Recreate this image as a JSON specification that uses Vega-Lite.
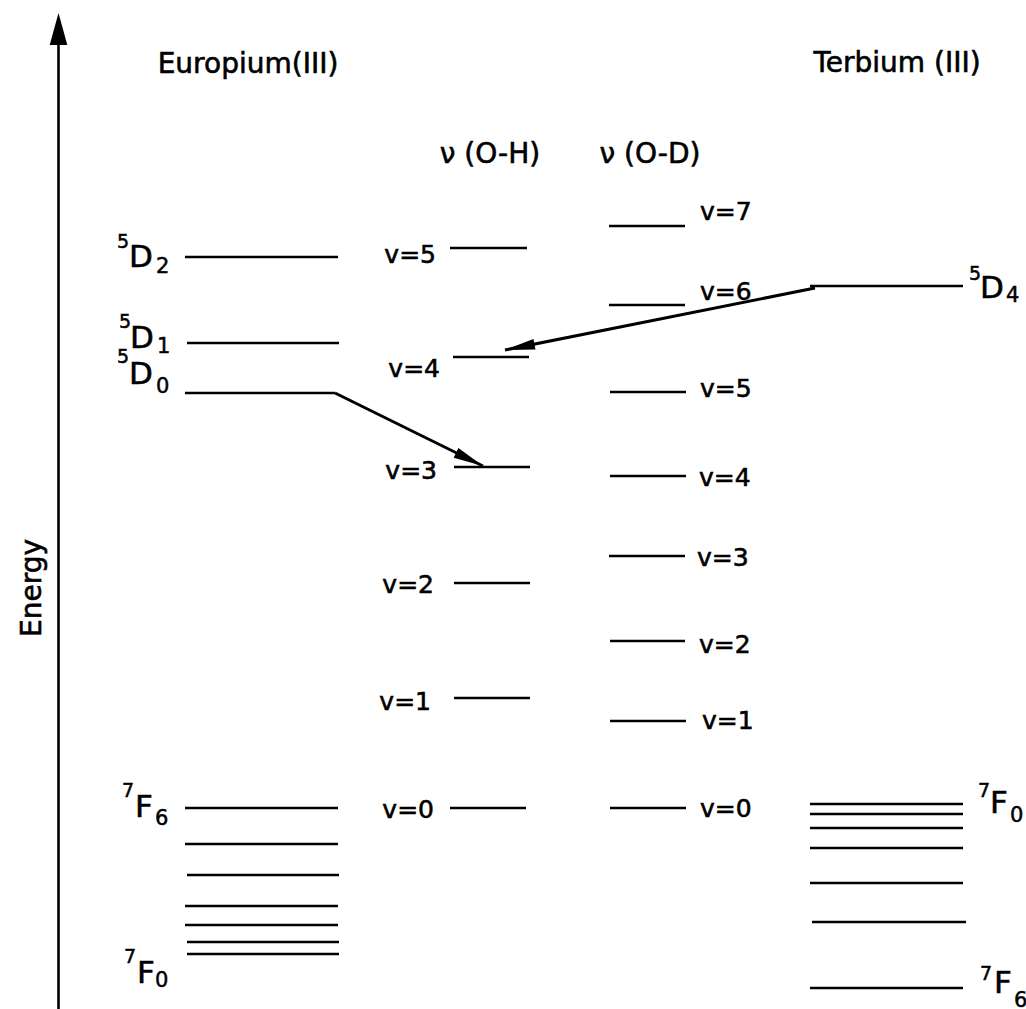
{
  "$schema": "https://vega.github.io/schema/vega-lite/v6.json",
  "width": 1026,
  "height": 1009,
  "autosize": "none",
  "padding": 0,
  "background": "white",
  "config": {"view": {"stroke": null}},
  "datasets": {
    "levels": [
      {"ion": "Eu", "state": "5D2", "x1": 185, "x2": 338, "E": 752},
      {"ion": "Eu", "state": "5D1", "x1": 187, "x2": 339, "E": 666},
      {"ion": "Eu", "state": "5D0", "x1": 185, "x2": 335, "E": 616},
      {"ion": "Eu", "state": "7F6", "x1": 185, "x2": 338, "E": 201},
      {"ion": "Eu", "state": "7F5", "x1": 185, "x2": 338, "E": 165},
      {"ion": "Eu", "state": "7F4", "x1": 187, "x2": 339, "E": 134},
      {"ion": "Eu", "state": "7F3", "x1": 185, "x2": 338, "E": 103},
      {"ion": "Eu", "state": "7F2", "x1": 185, "x2": 338, "E": 84},
      {"ion": "Eu", "state": "7F1", "x1": 187, "x2": 339, "E": 67},
      {"ion": "Eu", "state": "7F0", "x1": 187, "x2": 339, "E": 55},
      {"ion": "OH", "state": "v=5", "x1": 450, "x2": 527, "E": 761},
      {"ion": "OH", "state": "v=4", "x1": 453, "x2": 529, "E": 652},
      {"ion": "OH", "state": "v=3", "x1": 454, "x2": 530, "E": 542},
      {"ion": "OH", "state": "v=2", "x1": 454, "x2": 530, "E": 426},
      {"ion": "OH", "state": "v=1", "x1": 454, "x2": 530, "E": 311},
      {"ion": "OH", "state": "v=0", "x1": 450, "x2": 526, "E": 201},
      {"ion": "OD", "state": "v=7", "x1": 609, "x2": 685, "E": 783},
      {"ion": "OD", "state": "v=6", "x1": 609, "x2": 685, "E": 704},
      {"ion": "OD", "state": "v=5", "x1": 610, "x2": 686, "E": 617},
      {"ion": "OD", "state": "v=4", "x1": 610, "x2": 686, "E": 533},
      {"ion": "OD", "state": "v=3", "x1": 609, "x2": 685, "E": 453},
      {"ion": "OD", "state": "v=2", "x1": 610, "x2": 685, "E": 368},
      {"ion": "OD", "state": "v=1", "x1": 610, "x2": 686, "E": 288},
      {"ion": "OD", "state": "v=0", "x1": 610, "x2": 686, "E": 201},
      {"ion": "Tb", "state": "5D4", "x1": 810, "x2": 963, "E": 723},
      {"ion": "Tb", "state": "7F0", "x1": 810, "x2": 963, "E": 205},
      {"ion": "Tb", "state": "7F1", "x1": 810, "x2": 963, "E": 195},
      {"ion": "Tb", "state": "7F2", "x1": 810, "x2": 963, "E": 181},
      {"ion": "Tb", "state": "7F3", "x1": 810, "x2": 963, "E": 161},
      {"ion": "Tb", "state": "7F4", "x1": 810, "x2": 963, "E": 126},
      {"ion": "Tb", "state": "7F5", "x1": 812, "x2": 966, "E": 87},
      {"ion": "Tb", "state": "7F6", "x1": 810, "x2": 963, "E": 21}
    ],
    "transfers": [
      {"from": "Eu 5D0", "to": "OH v=3", "x1": 335, "E1": 616, "x2": 483, "E2": 543},
      {"from": "Tb 5D4", "to": "OH v=4", "x1": 815, "E1": 721, "x2": 505, "E2": 659}
    ],
    "axis": [
      {"x": 58.5, "E1": -5, "E2": 970, "Etip": 996}
    ],
    "labels": [
      {"text": "Europium(III)", "role": "title", "x": 248, "E": 936},
      {"text": "Terbium (III)", "role": "title", "x": 897, "E": 937},
      {"text": "ν (O-H)", "role": "title", "x": 490, "E": 846},
      {"text": "ν (O-D)", "role": "title", "x": 650, "E": 846},
      {"text": "v=5", "role": "vleft", "x": 436, "E": 746},
      {"text": "v=4", "role": "vleft", "x": 440, "E": 632},
      {"text": "v=3", "role": "vleft", "x": 437, "E": 530},
      {"text": "v=2", "role": "vleft", "x": 434, "E": 416},
      {"text": "v=1", "role": "vleft", "x": 431, "E": 299},
      {"text": "v=0", "role": "vleft", "x": 434, "E": 191},
      {"text": "v=7", "role": "vright", "x": 700, "E": 789},
      {"text": "v=6", "role": "vright", "x": 700, "E": 709},
      {"text": "v=5", "role": "vright", "x": 700, "E": 612},
      {"text": "v=4", "role": "vright", "x": 699, "E": 523},
      {"text": "v=3", "role": "vright", "x": 697, "E": 443},
      {"text": "v=2", "role": "vright", "x": 699, "E": 356},
      {"text": "v=1", "role": "vright", "x": 702, "E": 280},
      {"text": "v=0", "role": "vright", "x": 700, "E": 192},
      {"text": "5", "role": "sup", "x": 117, "E": 761},
      {"text": "D", "role": "main", "x": 129, "E": 742},
      {"text": "2", "role": "sub", "x": 156, "E": 736},
      {"text": "5", "role": "sup", "x": 119, "E": 681},
      {"text": "D", "role": "main", "x": 130, "E": 661},
      {"text": "1", "role": "sub", "x": 157, "E": 656},
      {"text": "5", "role": "sup", "x": 117, "E": 646},
      {"text": "D", "role": "main", "x": 129, "E": 625},
      {"text": "0", "role": "sub", "x": 156, "E": 616},
      {"text": "7", "role": "sup", "x": 122, "E": 212},
      {"text": "F", "role": "main", "x": 135, "E": 192},
      {"text": "6", "role": "sub", "x": 155, "E": 184},
      {"text": "7", "role": "sup", "x": 124, "E": 46},
      {"text": "F", "role": "main", "x": 137, "E": 26},
      {"text": "0", "role": "sub", "x": 155, "E": 22},
      {"text": "5", "role": "sup", "x": 969, "E": 729},
      {"text": "D", "role": "main", "x": 980, "E": 711},
      {"text": "4", "role": "sub", "x": 1006, "E": 707},
      {"text": "7", "role": "sup", "x": 978, "E": 212},
      {"text": "F", "role": "main", "x": 990, "E": 196},
      {"text": "0", "role": "sub", "x": 1010, "E": 187},
      {"text": "7", "role": "sup", "x": 980, "E": 29},
      {"text": "F", "role": "main", "x": 994, "E": 16},
      {"text": "6", "role": "sub", "x": 1014, "E": 2},
      {"text": "Energy", "role": "axis", "x": 41, "E": 421}
    ]
  },
  "layer": [
    {
      "data": {"name": "levels"},
      "mark": {"type": "rule", "color": "black", "strokeWidth": 2.6},
      "encoding": {
        "x": {"field": "x1", "type": "quantitative", "scale": {"domain": [0, 1026], "nice": false, "zero": false}, "axis": null},
        "x2": {"field": "x2"},
        "y": {"field": "E", "type": "quantitative", "scale": {"domain": [0, 1009], "nice": false, "zero": false}, "axis": null}
      }
    },
    {
      "data": {"name": "axis"},
      "mark": {"type": "rule", "color": "black", "strokeWidth": 2.6},
      "encoding": {
        "x": {"field": "x", "type": "quantitative"},
        "y": {"field": "E1", "type": "quantitative"},
        "y2": {"field": "E2"}
      }
    },
    {
      "data": {"name": "axis"},
      "mark": {"type": "point", "shape": "M0,0L0.55,2L-0.55,2Z", "size": 1024, "filled": true, "color": "black", "opacity": 1, "strokeWidth": 0},
      "encoding": {
        "x": {"field": "x", "type": "quantitative"},
        "y": {"field": "Etip", "type": "quantitative"}
      }
    },
    {
      "data": {"name": "transfers"},
      "mark": {"type": "rule", "color": "black", "strokeWidth": 3},
      "encoding": {
        "x": {"field": "x1", "type": "quantitative"},
        "y": {"field": "E1", "type": "quantitative"},
        "x2": {"field": "x2"},
        "y2": {"field": "E2"}
      }
    },
    {
      "data": {"name": "transfers"},
      "transform": [{"filter": "datum.from == 'Eu 5D0'"}],
      "mark": {"type": "point", "shape": "M0,0L0.36,2L-0.36,2Z", "size": 900, "angle": 116, "filled": true, "color": "black", "opacity": 1, "strokeWidth": 0},
      "encoding": {
        "x": {"field": "x2", "type": "quantitative"},
        "y": {"field": "E2", "type": "quantitative"}
      }
    },
    {
      "data": {"name": "transfers"},
      "transform": [{"filter": "datum.from == 'Tb 5D4'"}],
      "mark": {"type": "point", "shape": "M0,0L0.36,2L-0.36,2Z", "size": 900, "angle": 259, "filled": true, "color": "black", "opacity": 1, "strokeWidth": 0},
      "encoding": {
        "x": {"field": "x2", "type": "quantitative"},
        "y": {"field": "E2", "type": "quantitative"}
      }
    },
    {
      "data": {"name": "labels"},
      "transform": [{"filter": "datum.role == 'title'"}],
      "mark": {"type": "text", "font": "DejaVu Sans", "fontSize": 28, "align": "center", "baseline": "alphabetic", "color": "black", "stroke": "black", "strokeWidth": 0.6},
      "encoding": {
        "x": {"field": "x", "type": "quantitative"},
        "y": {"field": "E", "type": "quantitative"},
        "text": {"field": "text"}
      }
    },
    {
      "data": {"name": "labels"},
      "transform": [{"filter": "datum.role == 'vleft'"}],
      "mark": {"type": "text", "font": "DejaVu Sans", "fontSize": 25, "align": "right", "baseline": "alphabetic", "color": "black", "stroke": "black", "strokeWidth": 0.6},
      "encoding": {
        "x": {"field": "x", "type": "quantitative"},
        "y": {"field": "E", "type": "quantitative"},
        "text": {"field": "text"}
      }
    },
    {
      "data": {"name": "labels"},
      "transform": [{"filter": "datum.role == 'vright'"}],
      "mark": {"type": "text", "font": "DejaVu Sans", "fontSize": 25, "align": "left", "baseline": "alphabetic", "color": "black", "stroke": "black", "strokeWidth": 0.6},
      "encoding": {
        "x": {"field": "x", "type": "quantitative"},
        "y": {"field": "E", "type": "quantitative"},
        "text": {"field": "text"}
      }
    },
    {
      "data": {"name": "labels"},
      "transform": [{"filter": "datum.role == 'main'"}],
      "mark": {"type": "text", "font": "DejaVu Sans", "fontSize": 31, "align": "left", "baseline": "alphabetic", "color": "black", "stroke": "black", "strokeWidth": 0.6},
      "encoding": {
        "x": {"field": "x", "type": "quantitative"},
        "y": {"field": "E", "type": "quantitative"},
        "text": {"field": "text"}
      }
    },
    {
      "data": {"name": "labels"},
      "transform": [{"filter": "datum.role == 'sup'"}],
      "mark": {"type": "text", "font": "DejaVu Sans", "fontSize": 19, "align": "left", "baseline": "alphabetic", "color": "black", "stroke": "black", "strokeWidth": 0.5},
      "encoding": {
        "x": {"field": "x", "type": "quantitative"},
        "y": {"field": "E", "type": "quantitative"},
        "text": {"field": "text"}
      }
    },
    {
      "data": {"name": "labels"},
      "transform": [{"filter": "datum.role == 'sub'"}],
      "mark": {"type": "text", "font": "DejaVu Sans", "fontSize": 21, "align": "left", "baseline": "alphabetic", "color": "black", "stroke": "black", "strokeWidth": 0.5},
      "encoding": {
        "x": {"field": "x", "type": "quantitative"},
        "y": {"field": "E", "type": "quantitative"},
        "text": {"field": "text"}
      }
    },
    {
      "data": {"name": "labels"},
      "transform": [{"filter": "datum.role == 'axis'"}],
      "mark": {"type": "text", "font": "DejaVu Sans", "fontSize": 28, "align": "center", "baseline": "alphabetic", "angle": 270, "color": "black", "stroke": "black", "strokeWidth": 0.6},
      "encoding": {
        "x": {"field": "x", "type": "quantitative"},
        "y": {"field": "E", "type": "quantitative"},
        "text": {"field": "text"}
      }
    }
  ]
}
